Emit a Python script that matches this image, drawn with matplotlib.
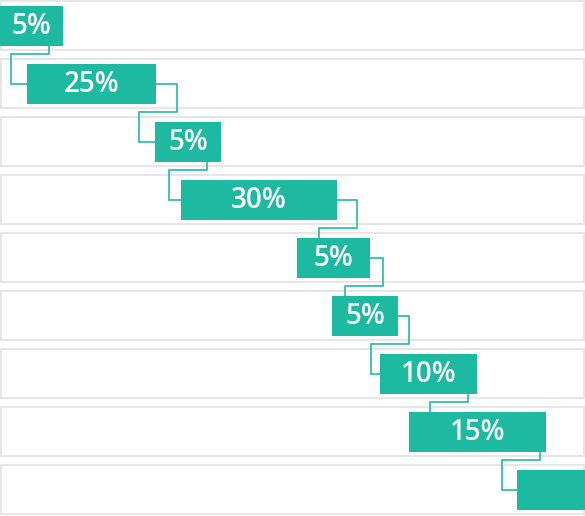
import matplotlib
matplotlib.use("Agg")
import matplotlib.pyplot as plt
from matplotlib.patches import Rectangle

# ---- data ----
steps = ["Step 1", "Step 2", "Step 3", "Step 4", "Step 5", "Step 6", "Step 7", "Step 8", "Step 9"]
labels = ["5%", "25%", "5%", "30%", "5%", "5%", "10%", "15%", ""]
starts = [0, 27, 155, 181, 297, 332, 380, 409, 517]
ends = [63, 156, 221, 337, 370, 398, 477, 546, 640]
# x position of the right elbow of each connector (between step i and i+1)
elbows = [49, 177, 207, 357, 383, 409, 468, 540]

TEAL = "#1db9a1"
GRID = "#e6e6e6"

fig = plt.figure(figsize=(5.85, 5.16), dpi=100)
ax = fig.add_axes([0, 0, 1, 1])
ax.set_xlim(0, 585)
ax.set_ylim(516, 0)
ax.axis("off")

pitch = 58
row_h = 48.5
bar_h = 40
elbow_w = 38
px = 72 / 100.0  # points per pixel

for i, s in enumerate(steps):
    top = pitch * i + 1
    ax.add_patch(Rectangle((1, top), 583, row_h, facecolor="white",
                           edgecolor=GRID, linewidth=2 * px, zorder=1))

centers = []
for i, s in enumerate(steps):
    cy = pitch * i + 26
    centers.append(cy)
    ax.barh(cy, ends[i] - starts[i], left=starts[i], height=bar_h,
            color=TEAL, zorder=3)
    if labels[i]:
        ax.text((starts[i] + ends[i]) / 2, cy, labels[i], color="white",
                fontsize=20, fontfamily="Open Sans", fontweight=600,
                ha="center", va="center", zorder=4)

for i, xr in enumerate(elbows):
    cy = centers[i]
    ny = centers[i + 1]
    xl = xr - elbow_w
    gap_y = pitch * i + 54
    xs, ys = [], []
    if xr < ends[i]:
        xs += [xr]; ys += [cy + bar_h / 2]
    else:
        xs += [ends[i], xr]; ys += [cy, cy]
    xs += [xr, xl]; ys += [gap_y, gap_y]
    if xl < starts[i + 1]:
        xs += [xl, starts[i + 1]]; ys += [ny, ny]
    else:
        xs += [xl]; ys += [ny - bar_h / 2]
    ax.plot(xs, ys, color=TEAL, linewidth=1.6 * px, zorder=2,
            solid_joinstyle="miter")

fig.savefig("out.png", dpi=100)
